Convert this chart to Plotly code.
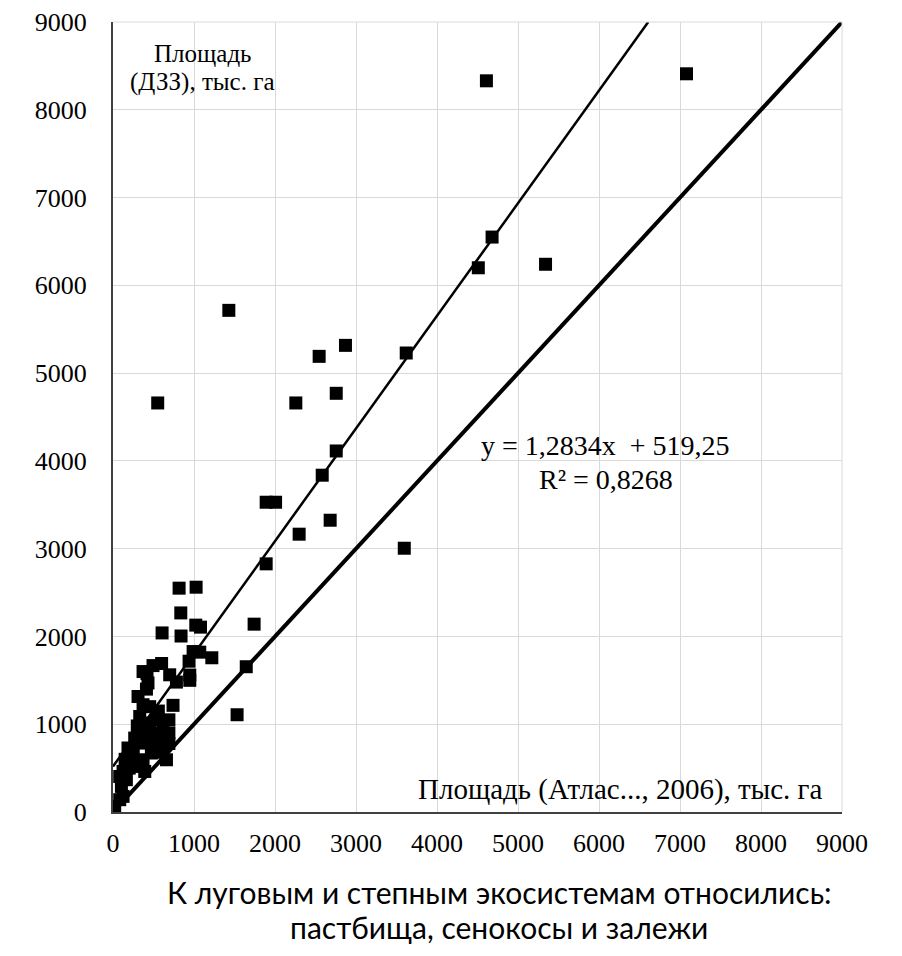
import plotly.graph_objects as go

# Area by Atlas (2006), thousand ha
atlas_x = [7080, 4610, 4680, 4510, 5340, 1430, 2870, 2545, 3620, 2756,
           2257, 552, 2756, 2583, 1891, 2007, 2681, 2298, 3596, 1891,
           816, 1026, 837, 1022, 1080, 1742, 606, 840, 989, 1071,
           1220, 939, 1645, 600, 494, 420, 700, 948, 948, 783,
           371, 432, 413, 309, 371, 453, 741, 1532, 330, 413,
           536, 618, 413, 536, 639, 618, 494, 351, 268, 185,
           227, 371, 660, 392, 289, 124, 83, 165, 104, 124,
           83, 0, 21, 690, 690, 690, 474, 560, 200, 250,
           150, 450, 560, 300]
# Area by remote sensing (DZZ), thousand ha
dzz_y = [8410, 8330, 6550, 6200, 6240, 5715, 5316, 5191, 5229, 4770,
         4660, 4660, 4113, 3837, 3529, 3529, 3324, 3165, 3005, 2827,
         2550, 2561, 2268, 2129, 2106, 2140, 2040, 2005, 1828, 1821,
         1757, 1718, 1655, 1692, 1668, 1578, 1563, 1560, 1500, 1480,
         1600, 1470, 1400, 1316, 1222, 1200, 1215, 1108, 1088, 1013,
         1051, 994, 899, 899, 861, 747, 785, 785, 842, 729,
         633, 595, 595, 462, 519, 462, 405, 368, 292, 178,
         140, 64, 40, 1050, 900, 780, 672, 680, 500, 700,
         600, 950, 1150, 980]

SLOPE = 1.2834
INTERCEPT = 519.25
AXIS_MAX = 9000
tick_vals = [0, 1000, 2000, 3000, 4000, 5000, 6000, 7000, 8000, 9000]
tick_text = [str(v) for v in tick_vals]

serif = "Liberation Serif"

fig = go.Figure()

# 1:1 line
fig.add_trace(go.Scatter(x=[0, AXIS_MAX], y=[0, AXIS_MAX], mode="lines",
                         line=dict(color="black", width=4), hoverinfo="skip"))
# trend line
x_end = (AXIS_MAX - INTERCEPT) / SLOPE
fig.add_trace(go.Scatter(x=[0, x_end], y=[INTERCEPT, SLOPE * x_end + INTERCEPT],
                         mode="lines", line=dict(color="black", width=2.5), hoverinfo="skip"))
# points
fig.add_trace(go.Scatter(x=atlas_x, y=dzz_y, mode="markers",
                         marker=dict(symbol="square", size=13, color="black",
                                     line=dict(width=0))))

fig.update_layout(
    width=894, height=948,
    margin=dict(l=105, r=60, t=14, b=144, autoexpand=False),
    paper_bgcolor="white", plot_bgcolor="white",
    font=dict(family=serif, color="black"),
    showlegend=False,
)
for upd, standoff in ((fig.update_xaxes, 7), (fig.update_yaxes, 19)):
    upd(range=[0, AXIS_MAX], tickmode="array", tickvals=tick_vals, ticktext=tick_text,
        showgrid=True, gridcolor="#d9d9d9", gridwidth=1,
        zeroline=False, showline=True, linecolor="#404040", linewidth=2,
        ticks="", automargin=False, fixedrange=True,
        ticklabelstandoff=standoff,
        tickfont=dict(family=serif, size=26, color="black"))

# frame lines at the top and right (light grey)
fig.add_shape(type="line", xref="paper", yref="paper", x0=0, x1=1, y0=1, y1=1,
              line=dict(color="#d9d9d9", width=1))
fig.add_shape(type="line", xref="paper", yref="paper", x0=1, x1=1, y0=0, y1=1,
              line=dict(color="#d9d9d9", width=1))

txt = dict(family=serif, size=25, color="black")
fig.add_annotation(x=1108, y=8644, xref="x", yref="y", text="Площадь",
                   showarrow=False, font=txt)
fig.add_annotation(x=1108, y=8314, xref="x", yref="y", text="(ДЗЗ), тыс. га",
                   showarrow=False, font=txt)
fig.add_annotation(x=8794, y=254, xref="x", yref="y", xanchor="right",
                   text="Площадь (Атлас..., 2006), тыс. га", showarrow=False,
                   font=dict(family=serif, size=29, color="black"))
fig.add_annotation(x=6082, y=4170, xref="x", yref="y",
                   text="y = 1,2834x&nbsp;&nbsp;+ 519,25", showarrow=False,
                   font=dict(family=serif, size=28, color="black"))
fig.add_annotation(x=6082, y=3785, xref="x", yref="y",
                   text="R² = 0,8268", showarrow=False,
                   font=dict(family=serif, size=28, color="black"))

sans = dict(family="Lato", size=30, color="black")
xc = (499 - 113.3) / 728.4
fig.add_annotation(x=xc, y=-(884 - 804) / 790, xref="paper", yref="paper",
                   yanchor="middle", text="К луговым и степным экосистемам относились:",
                   showarrow=False, font=sans)
fig.add_annotation(x=xc, y=-(919 - 804) / 790, xref="paper", yref="paper",
                   yanchor="middle", text="пастбища, сенокосы и залежи",
                   showarrow=False, font=sans)

fig.write_html("out.html")
